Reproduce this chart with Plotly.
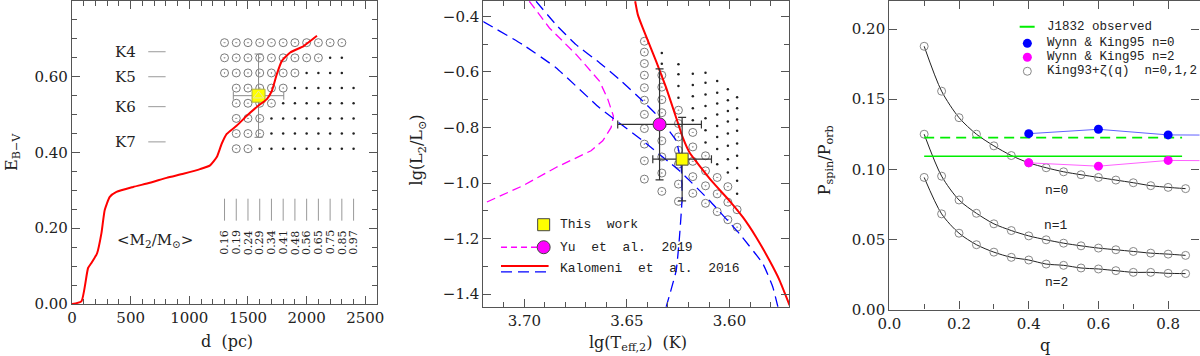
import plotly.graph_objects as go

# ---------------- panel 1: reddening vs distance ----------------
d_curve = [0, 80, 137, 165, 214, 251, 279, 322, 379, 521, 664, 806, 949, 1091, 1177,
           1234, 1276, 1319, 1405, 1490, 1590, 1661, 1704, 1746, 1789, 1860, 1974, 2088]
ebv_curve = [0.0, 0.007, 0.095, 0.108, 0.134, 0.187, 0.248, 0.283, 0.296, 0.309, 0.320,
             0.333, 0.344, 0.356, 0.366, 0.388, 0.423, 0.449, 0.471, 0.497, 0.524, 0.541,
             0.563, 0.607, 0.642, 0.664, 0.681, 0.708]

grid_d = [1300, 1400, 1500, 1600, 1700, 1800, 1900, 2000, 2100, 2200, 2300, 2400]
grid_ebv = [0.69, 0.65, 0.61, 0.57, 0.53, 0.49, 0.45, 0.41]
# O = model fits (circle), . = other model, _ = none
grid_rows = ["OOOOOOOOOOO_",
             "OOOOOOOOO.._",
             "OOOOOOO...._",
             "_OOOOO......",
             "_OOOO.......",
             "_OOO........",
             "_OOO........",
             "_OO........."]
mass_labels = ["0.16", "0.19", "0.24", "0.29", "0.34", "0.41",
               "0.48", "0.56", "0.65", "0.75", "0.85", "0.97"]
ktypes = ["K4", "K5", "K6", "K7"]
ktype_ebv = [0.666, 0.600, 0.521, 0.428]

this_d, this_d_err = 1590, 215
this_ebv, this_ebv_err = 0.55, 0.11

# ---------------- panel 2: HR diagram ----------------
kal_red_t = [3.646, 3.6447, 3.6423, 3.6358, 3.6309, 3.626, 3.6228, 3.6195, 3.6146,
             3.6081, 3.600, 3.5935, 3.587, 3.5805, 3.5756, 3.5707]
kal_red_l = [-0.346, -0.394, -0.442, -0.561, -0.657, -0.765, -0.836, -0.890, -0.938,
             -0.998, -1.064, -1.123, -1.195, -1.279, -1.350, -1.440]
kal_blue1_t = [3.6943, 3.6846, 3.6748, 3.6634, 3.6537, 3.6423, 3.6358, 3.626, 3.6236,
               3.6231, 3.6244, 3.626, 3.6309]
kal_blue1_l = [-0.346, -0.430, -0.502, -0.567, -0.627, -0.705, -0.753, -0.848, -0.932,
               -1.052, -1.195, -1.315, -1.446]
kal_blue2_t = [3.7203, 3.7008, 3.6846, 3.6634, 3.6423, 3.6244, 3.6098, 3.5951, 3.5837,
               3.5789, 3.5764]
kal_blue2_l = [-0.418, -0.502, -0.585, -0.729, -0.848, -0.956, -1.063, -1.183, -1.291,
               -1.374, -1.446]
yu_t = [3.6976, 3.6878, 3.6748, 3.6634, 3.6593, 3.6566, 3.6577, 3.6618, 3.6675, 3.6846,
        3.7008, 3.7203]
yu_l = [-0.346, -0.442, -0.537, -0.633, -0.699, -0.759, -0.800, -0.848, -0.884, -0.944,
        -1.010, -1.075]

hr_cols_t = [3.6415, 3.6330, 3.6249, 3.6179, 3.6117, 3.6060, 3.6008, 3.5963]
hr_circ_l = [
    [-0.490, -0.529, -0.570, -0.612, -0.657, -0.702, -0.753, -0.804, -0.860, -0.920, -0.986],
    [-0.612, -0.655, -0.700, -0.747, -0.791, -0.848, -0.906, -0.964, -1.030],
    [-0.738, -0.786, -0.834, -0.882, -0.932, -1.004, -1.066],
    [-0.818, -0.870, -0.922, -0.977, -1.037],
    [-0.902, -0.956, -1.010, -1.073],
    [-0.980, -1.039, -1.103],
    [-1.013, -1.069, -1.132],
    [-1.096, -1.159],
]
hr_dot_l = [
    [],
    [-0.532, -0.571],
    [-0.573, -0.609, -0.651, -0.693],
    [-0.607, -0.647, -0.688, -0.731, -0.774],
    [-0.603, -0.639, -0.681, -0.723, -0.767, -0.810, -0.854],
    [-0.633, -0.675, -0.714, -0.753, -0.795, -0.834, -0.878, -0.932],
    [-0.663, -0.702, -0.741, -0.779, -0.822, -0.866, -0.914, -0.962],
    [-0.691, -0.731, -0.771, -0.812, -0.858, -0.902, -0.946, -0.992, -1.039],
]

yu_pt_t, yu_pt_terr, yu_pt_l, yu_pt_lerr = 3.6341, 0.0204, -0.789, 0.20
tw_pt_t, tw_pt_terr, tw_pt_l, tw_pt_lerr = 3.6231, 0.0143, -0.914, 0.15

# ---------------- panel 3: Pspin/Porb vs q ----------------
q_grid = [0.10, 0.15, 0.20, 0.25, 0.30, 0.35, 0.40, 0.45, 0.50, 0.55, 0.60, 0.65, 0.70,
          0.75, 0.80, 0.85]
king_n0 = [0.1877, 0.1557, 0.1368, 0.1250, 0.1167, 0.1098, 0.1046, 0.1011, 0.0982, 0.0961,
           0.0942, 0.0923, 0.0904, 0.0883, 0.0871, 0.0862]
king_n1 = [0.1250, 0.0951, 0.0781, 0.0686, 0.0611, 0.0563, 0.0525, 0.0497, 0.0473, 0.0454,
           0.0438, 0.0426, 0.0414, 0.0402, 0.0395, 0.0386]
king_n2 = [0.0942, 0.0682, 0.0544, 0.0462, 0.0409, 0.0372, 0.0353, 0.0324, 0.0315, 0.0296,
           0.0289, 0.0277, 0.0265, 0.0265, 0.0258, 0.0256]
wk_q = [0.4, 0.6, 0.8, 1.0]
wk_n0 = [0.1254, 0.1285, 0.1245, 0.1243]
wk_n2 = [0.1046, 0.1022, 0.1063, 0.1060]
obs_q = [0.10, 0.84]
obs_solid = 0.1093
obs_dashed = 0.1226

SERIF = "DejaVu Serif"
MONO = "Liberation Mono"
FRAME = "#555555"

fig = go.Figure()

# ---- panel 1 traces
circ_x, circ_y, dot_x, dot_y = [], [], [], []
for e, row in zip(grid_ebv, grid_rows):
    for d, c in zip(grid_d, row):
        if c == "O":
            circ_x.append(d); circ_y.append(e)
        elif c == ".":
            dot_x.append(d); dot_y.append(e)

fig.add_trace(go.Scatter(x=dot_x, y=dot_y, mode="markers", xaxis="x", yaxis="y",
                         marker=dict(symbol="circle", size=2.5, color="#222")))
fig.add_trace(go.Scatter(x=circ_x, y=circ_y, mode="markers", xaxis="x", yaxis="y",
                         marker=dict(symbol="circle-open-dot", size=8, color="#7a7a7a",
                                     line=dict(width=1))))
mx, my = [], []
for d in grid_d:
    mx += [d, d, None]
    my += [0.220, 0.278, None]
fig.add_trace(go.Scatter(x=mx, y=my, mode="lines", xaxis="x", yaxis="y",
                         line=dict(color="#999", width=1)))
fig.add_trace(go.Scatter(x=[this_d], y=[this_ebv], mode="markers", xaxis="x", yaxis="y",
                         error_x=dict(type="data", array=[this_d_err], color="#8a8a8a",
                                      thickness=1, width=4),
                         error_y=dict(type="data", array=[this_ebv_err], color="#8a8a8a",
                                      thickness=1, width=4),
                         marker=dict(symbol="square", size=13, color="#ffff00",
                                     line=dict(color="#b0b040", width=1))))
fig.add_trace(go.Scatter(x=[this_d], y=[this_ebv], mode="markers", xaxis="x", yaxis="y",
                         marker=dict(symbol="triangle-up-open", size=9, color="#e8e8a0",
                                     line=dict(width=1))))
fig.add_trace(go.Scatter(x=d_curve, y=ebv_curve, mode="lines", xaxis="x", yaxis="y",
                         line=dict(color="#ff0000", width=2, shape="spline", smoothing=0.5)))

# ---- panel 2 traces
hc_x, hc_y, hd_x, hd_y = [], [], [], []
for t, cl, dl in zip(hr_cols_t, hr_circ_l, hr_dot_l):
    hc_x += [t] * len(cl); hc_y += cl
    hd_x += [t] * len(dl); hd_y += dl
fig.add_trace(go.Scatter(x=hd_x, y=hd_y, mode="markers", xaxis="x2", yaxis="y2",
                         marker=dict(symbol="circle", size=2.5, color="#222")))
fig.add_trace(go.Scatter(x=hc_x, y=hc_y, mode="markers", xaxis="x2", yaxis="y2",
                         marker=dict(symbol="circle-open-dot", size=8, color="#7a7a7a",
                                     line=dict(width=1))))
fig.add_trace(go.Scatter(x=yu_t, y=yu_l, mode="lines", xaxis="x2", yaxis="y2",
                         line=dict(color="#ff00ff", width=1.3, dash="9px,5px")))
fig.add_trace(go.Scatter(x=kal_blue1_t, y=kal_blue1_l, mode="lines", xaxis="x2", yaxis="y2",
                         line=dict(color="#0000ff", width=1.3, dash="11px,6px", shape="spline",
                                   smoothing=0.4)))
fig.add_trace(go.Scatter(x=kal_blue2_t, y=kal_blue2_l, mode="lines", xaxis="x2", yaxis="y2",
                         line=dict(color="#0000ff", width=1.3, dash="11px,6px", shape="spline",
                                   smoothing=0.4)))
fig.add_trace(go.Scatter(x=kal_red_t, y=kal_red_l, mode="lines", xaxis="x2", yaxis="y2",
                         line=dict(color="#ff0000", width=2, shape="spline", smoothing=0.4)))
fig.add_trace(go.Scatter(x=[yu_pt_t], y=[yu_pt_l], mode="markers", xaxis="x2", yaxis="y2",
                         error_x=dict(type="data", array=[yu_pt_terr], color="#333",
                                      thickness=1.2, width=4),
                         error_y=dict(type="data", array=[yu_pt_lerr], color="#333",
                                      thickness=1.2, width=4),
                         marker=dict(symbol="circle", size=13, color="#ff00ff",
                                     line=dict(color="#444", width=1))))
fig.add_trace(go.Scatter(x=[tw_pt_t], y=[tw_pt_l], mode="markers", xaxis="x2", yaxis="y2",
                         error_x=dict(type="data", array=[tw_pt_terr], color="#333",
                                      thickness=1.2, width=4),
                         error_y=dict(type="data", array=[tw_pt_lerr], color="#333",
                                      thickness=1.2, width=4),
                         marker=dict(symbol="square", size=12, color="#ffff00",
                                     line=dict(color="#444", width=1))))

# ---- panel 3 traces
for yy in (king_n0, king_n1, king_n2):
    fig.add_trace(go.Scatter(x=q_grid, y=yy, mode="lines", xaxis="x3", yaxis="y3",
                             line=dict(color="#222", width=1, shape="spline", smoothing=0.8)))
    fig.add_trace(go.Scatter(x=q_grid, y=yy, mode="markers", xaxis="x3", yaxis="y3",
                             marker=dict(symbol="circle-open", size=8, color="#888",
                                         line=dict(width=1))))
fig.add_trace(go.Scatter(x=obs_q, y=[obs_dashed] * 2, mode="lines", xaxis="x3", yaxis="y3",
                         line=dict(color="#00ee00", width=1.6, dash="10px,6px")))
fig.add_trace(go.Scatter(x=obs_q, y=[obs_solid] * 2, mode="lines", xaxis="x3", yaxis="y3",
                         line=dict(color="#00ee00", width=1.6)))
fig.add_trace(go.Scatter(x=wk_q, y=wk_n0, mode="lines+markers", xaxis="x3", yaxis="y3",
                         line=dict(color="#6060ff", width=1),
                         marker=dict(size=9, color="#0000ff", line=dict(width=0))))
fig.add_trace(go.Scatter(x=wk_q, y=wk_n2, mode="lines+markers", xaxis="x3", yaxis="y3",
                         line=dict(color="#ff60ff", width=1),
                         marker=dict(size=9, color="#ff00ff", line=dict(width=0))))


def axis(domain, rng, dtick, fmt, minor_dtick, anchor):
    return dict(domain=domain, range=rng, dtick=dtick, tickformat=fmt, anchor=anchor,
                automargin=False,
                showgrid=False, zeroline=False, showline=True, mirror="ticks",
                linecolor=FRAME, linewidth=1.2, ticks="inside", ticklen=8,
                tickcolor=FRAME, tickwidth=1.2,
                tickfont=dict(family=SERIF, size=15, color="#222"),
                minor=dict(ticks="inside", ticklen=5, dtick=minor_dtick,
                           tickcolor=FRAME, tickwidth=1.1))


ann = []
shapes = []


def text(x, y, s, xref, yref, size=15, family=SERIF, xanchor="center", angle=0):
    ann.append(dict(x=x, y=y, xref=xref, yref=yref, text=s, showarrow=False,
                    xanchor=xanchor, yanchor="middle", textangle=angle,
                    font=dict(family=family, size=size, color="#222")))


# panel 1 annotations
for k, e in zip(ktypes, ktype_ebv):
    text(560, e, k, "x", "y", xanchor="right")
    shapes.append(dict(type="line", xref="x", yref="y", x0=650, x1=798, y0=e, y1=e,
                       line=dict(color="#999", width=1)))
for d, m in zip(grid_d, mass_labels):
    text(d, 0.163, m, "x", "y", size=11, angle=-90)
text(706, 0.167, "&lt;M<sub>2</sub>/M<sub>⊙</sub>&gt;", "x", "y")

# panel 2 legend
text(3.6837, -1.150, "This\u00a0\u00a0work", "x2", "y2", size=13, family=MONO, xanchor="left")
text(3.6837, -1.231, "Yu\u00a0\u00a0et\u00a0\u00a0al.\u00a0\u00a02019", "x2", "y2", size=13,
     family=MONO, xanchor="left")
text(3.6837, -1.309, "Kalomeni\u00a0\u00a0et\u00a0\u00a0al.\u00a0\u00a02016", "x2", "y2",
     size=13, family=MONO, xanchor="left")
shapes.append(dict(type="rect", xref="x2", yref="y2", xsizemode="pixel", ysizemode="pixel",
                   xanchor=3.6906, yanchor=-1.150, x0=-6, x1=6, y0=-6, y1=6,
                   fillcolor="#ffff00", line=dict(color="#444", width=1)))
shapes.append(dict(type="line", xref="x2", yref="y2", x0=3.7114, x1=3.6935, y0=-1.231,
                   y1=-1.231, line=dict(color="#ff00ff", width=1.3, dash="6px,4px")))
shapes.append(dict(type="circle", xref="x2", yref="y2", xsizemode="pixel", ysizemode="pixel",
                   xanchor=3.6906, yanchor=-1.231, x0=-6.5, x1=6.5, y0=-6.5, y1=6.5,
                   fillcolor="#ff00ff", line=dict(color="#444", width=1)))
shapes.append(dict(type="line", xref="x2", yref="y2", x0=3.7114, x1=3.6882, y0=-1.299,
                   y1=-1.299, line=dict(color="#ff0000", width=2)))
shapes.append(dict(type="line", xref="x2", yref="y2", x0=3.7114, x1=3.6882, y0=-1.320,
                   y1=-1.320, line=dict(color="#0000ff", width=1.3, dash="11px,6px")))

# panel 3 legend and labels
shapes.append(dict(type="line", xref="x3", yref="y3", x0=0.374, x1=0.417, y0=0.2017,
                   y1=0.2017, line=dict(color="#00ee00", width=2)))
for yy, col in ((0.1898, "#0000ff"), (0.1799, "#ff00ff")):
    shapes.append(dict(type="circle", xref="x3", yref="y3", xsizemode="pixel",
                       ysizemode="pixel", xanchor=0.396, yanchor=yy, x0=-4.5, x1=4.5,
                       y0=-4.5, y1=4.5, fillcolor=col, line=dict(width=0)))
shapes.append(dict(type="circle", xref="x3", yref="y3", xsizemode="pixel", ysizemode="pixel",
                   xanchor=0.396, yanchor=0.1699, x0=-4, x1=4, y0=-4, y1=4,
                   line=dict(color="#888", width=1)))
leg3 = ["J1832 observed", "Wynn\u00a0&amp;\u00a0King95\u00a0n=0",
        "Wynn\u00a0&amp;\u00a0King95\u00a0n=2", "King93+ζ(q)\u00a0\u00a0n=0,1,2"]
for s, yy in zip(leg3, [0.2017, 0.1898, 0.1799, 0.1699]):
    text(0.4455, yy, s, "x3", "y3", size=12.5, family=MONO, xanchor="left")
for s, yy in zip(["n=0", "n=1", "n=2"], [0.0847, 0.0596, 0.0196]):
    text(0.479, yy, s, "x3", "y3", size=13, family=MONO)

# axis titles
text(0.1892, 0.042, "d\u00a0\u00a0(pc)", "paper", "paper", size=16)
text(0.010, 0.573, "E<sub>B−V</sub>", "paper", "paper", size=16, angle=-90)
text(0.5317, 0.036, "lg(T<sub>eff,2</sub>)\u00a0\u00a0(K)", "paper", "paper", size=16)
text(0.3483, 0.58, "lg(L<sub>2</sub>/L<sub>⊙</sub>)", "paper", "paper", size=16, angle=-90)
text(0.8708, 0.030, "q", "paper", "paper", size=16)
text(0.6875, 0.55, "P<sub>spin</sub>/P<sub>orb</sub>", "paper", "paper", size=16, angle=-90)

fig.update_layout(
    width=1200, height=356, autosize=False,
    margin=dict(l=0, r=0, t=0, b=0, pad=0, autoexpand=False),
    paper_bgcolor="white", plot_bgcolor="white", showlegend=False,
    xaxis=axis([0.060, 0.3142], [0, 2600], 500, "d", 100, "y"),
    yaxis=axis([0.1461, 0.9972], [0, 0.8], 0.2, ".2f", 0.05, "x"),
    xaxis2=axis([0.4028, 0.6575], [3.72, 3.571], 0.05, ".2f", 0.01, "y2"),
    yaxis2=axis([0.1385, 0.9972], [-1.445, -0.345], 0.2, ".1f", 0.1, "x2"),
    xaxis3=axis([0.7411, 0.9996], [0, 0.89], 0.2, ".1f", 0.1, "y3"),
    yaxis3=axis([0.1306, 0.9972], [0, 0.22], 0.05, ".2f", 0.05, "x3"),
    annotations=ann, shapes=shapes,
)

# the page's default body margin would offset the figure by 8 px
fig.write_html("out.html", config={"displayModeBar": False},
               post_script="document.body.style.margin='0';document.body.style.overflow='hidden';")
